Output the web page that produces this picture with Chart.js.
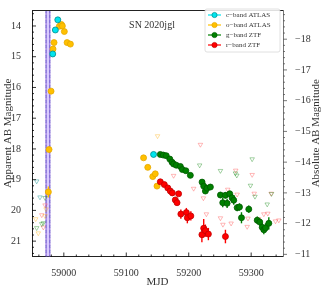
<!DOCTYPE html>
<html lang="en">
<head>
  <meta charset="UTF-8" />
  <title>SN 2020jgl light curve</title>
  <script src="https://cdn.jsdelivr.net/npm/chart.js"></script>
  <style>
    body { margin:0; background:white; }
    #wrap { width:327px; height:289px; position:relative; }
  </style>
</head>
<body>
  <div id="wrap"><canvas id="lc"></canvas></div>

  <script>
    // detections (MJD, apparent mag, error)
    const cMjd = [58982.2, 58986.4, 58990.3, 59143.7];
    const cMag = [14.91, 14.13, 13.80, 18.18];
    const cErr = [0.03, 0.03, 0.03, 0.04];

    const oMjd = [58975.2, 58976.3, 58979.5, 58982.7, 58984.3, 58992.8, 58996.0, 58997.6, 59000.8, 59005.2, 59010.5, 59127.7, 59134.4, 59142.4, 59146.4, 59149.2];
    const oMag = [19.40, 18.02, 16.12, 14.75, 14.54, 14.01, 13.95, 14.00, 14.18, 14.54, 14.59, 18.29, 18.60, 18.90, 18.81, 19.21];
    const oErr = [0.18, 0.04, 0.03, 0.03, 0.03, 0.02, 0.02, 0.02, 0.02, 0.03, 0.03, 0.05, 0.05, 0.05, 0.05, 0.05];

    const gMjd = [59154.5, 59159.3, 59164.0, 59169.7, 59173.2, 59175.8, 59180.1, 59186.6, 59189.8, 59195.4, 59202.6, 59221.4, 59224.0, 59226.7, 59229.4, 59234.7, 59250.8, 59254.5, 59258.8, 59261.5, 59265.7, 59269.5, 59272.1, 59277.6, 59281.3, 59284.5, 59296.2, 59309.7, 59313.8, 59317.7, 59320.3, 59323.0, 59328.3];
    const gMag = [18.18, 18.20, 18.22, 18.33, 18.43, 18.49, 18.53, 18.57, 18.67, 18.71, 18.86, 19.08, 19.21, 19.37, 19.28, 19.24, 19.50, 19.75, 19.51, 19.77, 19.46, 19.59, 19.67, 19.91, 19.89, 20.24, 19.96, 20.32, 20.38, 20.55, 20.63, 20.57, 20.42];
    const gErr = [0.04, 0.04, 0.04, 0.05, 0.05, 0.05, 0.05, 0.05, 0.06, 0.06, 0.06, 0.08, 0.09, 0.09, 0.09, 0.09, 0.10, 0.15, 0.10, 0.15, 0.10, 0.12, 0.15, 0.12, 0.12, 0.18, 0.12, 0.12, 0.12, 0.15, 0.15, 0.15, 0.20];

    const rMjd = [59154.5, 59160.9, 59166.5, 59170.5, 59173.7, 59178.5, 59181.3, 59183.8, 59187.4, 59196.2, 59197.8, 59203.4, 59221.1, 59224.0, 59226.7, 59231.5, 59258.8];
    const rMag = [19.07, 19.16, 19.27, 19.37, 19.43, 19.66, 19.75, 19.46, 20.12, 20.07, 20.24, 20.18, 20.79, 20.58, 20.66, 20.77, 20.85];
    const rErr = [0.05, 0.05, 0.06, 0.06, 0.06, 0.07, 0.07, 0.07, 0.15, 0.15, 0.18, 0.15, 0.25, 0.30, 0.20, 0.20, 0.22];

    // upper limits
    const cLimMjd = [58956.5, 58961.8];
    const cLimMag = [19.05, 19.57];
    const oLimMjd = [58954.9, 58959.1, 58969.9, 58971.5, 59150.1];
    const oLimMag = [20.28, 20.74, 20.18, 19.96, 17.58];
    const gLimMjd = [58956.5, 58964.6, 58967.1, 58969.9, 59217.5, 59250.8, 59274.8, 59277.0, 59298.9, 59301.6, 59306.1, 59325.7, 59332.6];
    const gLimMag = [20.57, 20.44, 20.41, 19.59, 18.53, 18.71, 18.79, 18.86, 19.19, 18.33, 19.55, 19.80, 19.46];
    const rLimMjd = [58964.6, 58967.1, 58969.9, 59175.8, 59207.9, 59218.7, 59223.5, 59228.3, 59250.8, 59254.8, 59262.5, 59267.9, 59275.3, 59277.6, 59293.6, 59294.9, 59301.6, 59304.9, 59312.2, 59320.3, 59326.7, 59332.1, 59339.0, 59344.3];
    const rLimMag = [20.15, 20.55, 19.83, 18.87, 19.29, 17.86, 19.60, 20.12, 20.25, 20.46, 19.32, 20.42, 18.70, 19.48, 20.53, 20.26, 18.84, 19.45, 20.28, 20.12, 20.10, 19.45, 20.35, 20.32];

    // explosion epoch band
    const bandStart = 58971.5, bandEnd = 58977.5;

    const xTicks = [59000, 59100, 59200, 59300];
    const yTicks = [14, 15, 16, 17, 18, 19, 20, 21];
    const absTicks = [-18, -17, -16, -15, -14, -13, -12, -11];
    const distMod = 32.43;
    const yMin = 13.48, yMax = 21.5;

    const legendItems = [
      { label: "c\u2212band ATLAS", color: "#00e5ee", edge: "#008b8b" },
      { label: "o\u2212band ATLAS", color: "#ffc000", edge: "#e6a800" },
      { label: "g\u2212band ZTF", color: "#008000", edge: "#005a00" },
      { label: "r\u2212band ZTF", color: "#ff0000", edge: "#c00000" }
    ];

    const serif = "'Liberation Serif', 'DejaVu Serif', serif";
    const pts = (xs, ys) => xs.map((x, i) => ({ x: x, y: ys[i] }));

    function detection(xs, ys, errs, item) {
      return {
        data: pts(xs, ys), errs: errs,
        backgroundColor: item.color, borderColor: item.edge,
        pointRadius: 3, pointBorderWidth: 0.8, showLine: false
      };
    }
    function limit(xs, ys, color) {
      return {
        data: pts(xs, ys), pointStyle: 'triangle', rotation: 180,
        backgroundColor: 'rgba(0,0,0,0)', borderColor: color,
        pointRadius: 2.6, pointBorderWidth: 0.9, showLine: false
      };
    }

    const errorBars = {
      id: 'errorBars',
      beforeDatasetsDraw(chart) {
        const ctx = chart.ctx, ys = chart.scales.y;
        chart.data.datasets.forEach((ds, i) => {
          if (!ds.errs) return;
          const meta = chart.getDatasetMeta(i);
          ctx.save();
          ctx.strokeStyle = ds.backgroundColor;
          ctx.lineWidth = 1.4;
          meta.data.forEach((p, j) => {
            const v = ds.data[j].y, e = ds.errs[j];
            ctx.beginPath();
            ctx.moveTo(p.x, ys.getPixelForValue(v - e));
            ctx.lineTo(p.x, ys.getPixelForValue(v + e));
            ctx.stroke();
          });
          ctx.restore();
        });
      }
    };

    const band = {
      id: 'band',
      beforeDatasetsDraw(chart) {
        const ctx = chart.ctx, a = chart.chartArea, xs = chart.scales.x;
        const x0 = xs.getPixelForValue(bandStart), x1 = xs.getPixelForValue(bandEnd);
        ctx.save();
        ctx.fillStyle = 'rgba(170,140,255,0.45)';
        ctx.fillRect(x0, a.top, x1 - x0, a.bottom - a.top);
        ctx.lineWidth = 1.2;
        [x0, x1].forEach(x => {
          ctx.setLineDash([3, 2]);
          ctx.strokeStyle = '#6a5acd';
          ctx.beginPath(); ctx.moveTo(x, a.top); ctx.lineTo(x, a.bottom); ctx.stroke();
          ctx.lineDashOffset = 2.5;
          ctx.strokeStyle = '#9370db';
          ctx.beginPath(); ctx.moveTo(x, a.top); ctx.lineTo(x, a.bottom); ctx.stroke();
          ctx.lineDashOffset = 0;
        });
        ctx.restore();
      }
    };

    const decor = {
      id: 'decor',
      afterDraw(chart) {
        const ctx = chart.ctx, a = chart.chartArea;
        const xs = chart.scales.x, ys = chart.scales.y, y2 = chart.scales.y2;
        ctx.save();
        ctx.strokeStyle = '#000';
        ctx.lineWidth = 0.8;
        // left ticks (inward)
        for (let k = 68; k <= 107; k++) {
          const v = k / 5, py = ys.getPixelForValue(v), len = (k % 5 === 0) ? 4 : 2;
          ctx.beginPath(); ctx.moveTo(a.left, py); ctx.lineTo(a.left + len, py); ctx.stroke();
        }
        // bottom ticks (inward)
        for (let v = 58960; v <= 59340; v += 20) {
          const px = xs.getPixelForValue(v), len = (v % 100 === 0) ? 4 : 2;
          ctx.beginPath(); ctx.moveTo(px, a.bottom); ctx.lineTo(px, a.bottom - len); ctx.stroke();
        }
        // right ticks (outward)
        ctx.strokeStyle = '#555';
        for (let k = -94; k <= -55; k++) {
          const v = k / 5, py = y2.getPixelForValue(v), len = (k % 5 === 0) ? 4 : 2;
          ctx.beginPath(); ctx.moveTo(a.right, py); ctx.lineTo(a.right + len, py); ctx.stroke();
        }
        // top frame
        ctx.strokeStyle = '#222'; ctx.lineWidth = 1;
        ctx.beginPath(); ctx.moveTo(a.left, a.top + 0.5); ctx.lineTo(a.right, a.top + 0.5); ctx.stroke();

        // title
        ctx.fillStyle = '#333';
        ctx.font = '10px ' + serif;
        ctx.textAlign = 'center'; ctx.textBaseline = 'middle';
        ctx.fillText('SN 2020jgl', 152, 25);

        // right axis label
        ctx.save();
        ctx.translate(316, (a.top + a.bottom) / 2);
        ctx.rotate(-Math.PI / 2);
        ctx.font = '11px ' + serif;
        ctx.fillText('Absolute AB Magnitude', 0, 0);
        ctx.restore();

        // legend
        const lx = 205, ly = 9, lw = 75, lh = 43;
        ctx.fillStyle = 'rgba(255,255,255,0.85)';
        ctx.strokeStyle = '#d8d8d8'; ctx.lineWidth = 0.8;
        ctx.beginPath(); ctx.roundRect(lx, ly, lw, lh, 2); ctx.fill(); ctx.stroke();
        ctx.font = '7px ' + serif;
        ctx.textAlign = 'left';
        legendItems.forEach((it, i) => {
          const ry = ly + 6 + i * 10;
          ctx.strokeStyle = it.color; ctx.lineWidth = 1.2;
          ctx.beginPath(); ctx.moveTo(lx + 3, ry); ctx.lineTo(lx + 16, ry); ctx.stroke();
          ctx.fillStyle = it.color; ctx.strokeStyle = it.edge; ctx.lineWidth = 0.7;
          ctx.beginPath(); ctx.arc(lx + 9.5, ry, 2.6, 0, Math.PI * 2); ctx.fill(); ctx.stroke();
          ctx.fillStyle = '#333';
          ctx.fillText(it.label, lx + 21, ry + 0.5);
        });
        ctx.restore();
      }
    };

    new Chart(document.getElementById('lc'), {
      type: 'scatter',
      data: {
        datasets: [
          detection(rMjd, rMag, rErr, legendItems[3]),
          detection(gMjd, gMag, gErr, legendItems[2]),
          detection(cMjd, cMag, cErr, legendItems[0]),
          detection(oMjd, oMag, oErr, legendItems[1]),
          limit(cLimMjd, cLimMag, 'rgba(0,139,139,0.45)'),
          limit(oLimMjd, oLimMag, 'rgba(255,170,0,0.4)'),
          limit(gLimMjd, gLimMag, 'rgba(0,128,0,0.4)'),
          limit(rLimMjd, rLimMag, 'rgba(255,60,60,0.4)')
        ]
      },
      options: {
        responsive: true, maintainAspectRatio: false, animation: false,
        layout: { padding: { top: 6, left: 0, right: 0, bottom: 0 } },
        plugins: { legend: { display: false }, tooltip: { enabled: false } },
        scales: {
          x: {
            type: 'linear', min: 58949, max: 59351,
            afterBuildTicks: s => { s.ticks = xTicks.map(v => ({ value: v })); },
            afterFit: s => { s.height = 32.5; },
            grid: { display: false },
            border: { display: true, color: '#222', width: 1 },
            ticks: { color: '#333', font: { family: serif, size: 10 }, padding: 3, maxRotation: 0,
                     callback: v => String(v) },
            title: { display: true, text: 'MJD', color: '#333', font: { family: serif, size: 11 }, padding: { top: 0, bottom: 0 } }
          },
          y: {
            type: 'linear', position: 'left', reverse: true, min: yMin, max: yMax,
            afterBuildTicks: s => { s.ticks = yTicks.map(v => ({ value: v })); },
            afterFit: s => { s.width = 32; },
            grid: { display: false },
            border: { display: true, color: '#222', width: 1 },
            ticks: { color: '#333', font: { family: serif, size: 10 }, padding: 3 },
            title: { display: true, text: 'Apparent AB Magnitude', color: '#333', font: { family: serif, size: 11 }, padding: { top: 2, bottom: 0 } }
          },
          y2: {
            type: 'linear', position: 'right', reverse: true, min: yMin - distMod, max: yMax - distMod,
            afterBuildTicks: s => { s.ticks = absTicks.map(v => ({ value: v })); },
            afterFit: s => { s.width = 44; },
            grid: { display: false },
            border: { display: true, color: '#777', width: 1 },
            ticks: { color: '#333', font: { family: serif, size: 10 }, padding: 4,
                     callback: v => (v < 0 ? '\u2212' + Math.abs(v) : String(v)) }
          }
        }
      },
      plugins: [band, errorBars, decor]
    });
  </script>
</body>
</html>
